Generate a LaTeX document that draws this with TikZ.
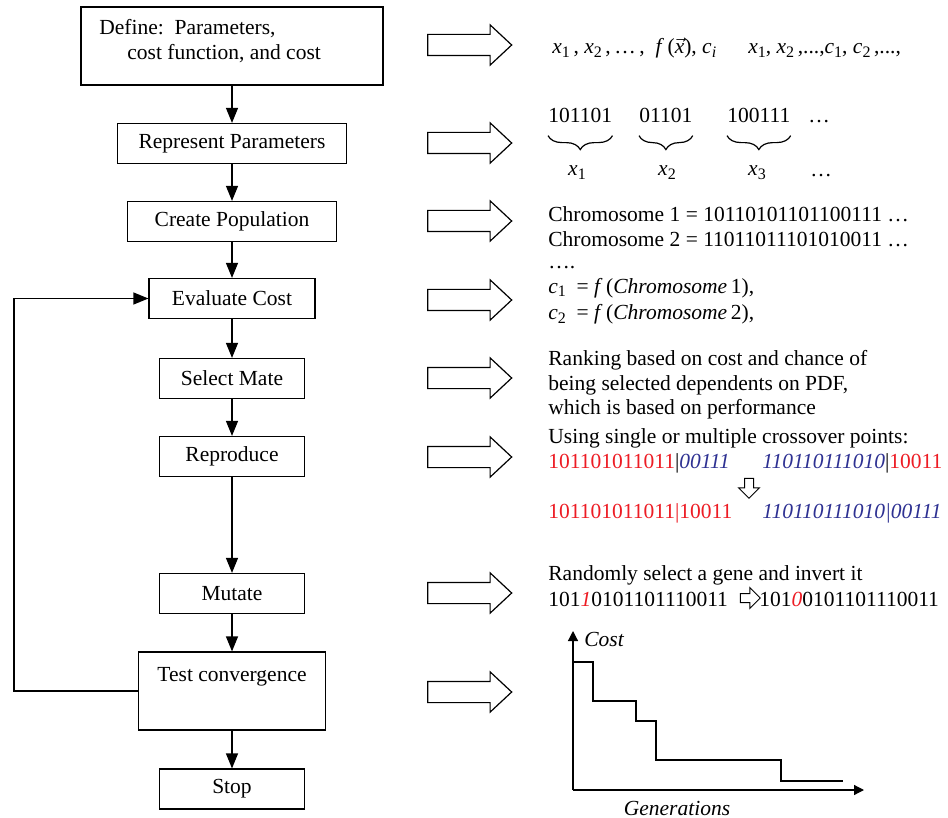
\documentclass[tikz,border=0pt]{standalone}
\usepackage{fontspec}
\setmainfont{Liberation Serif}
\usetikzlibrary{arrows.meta,shapes.arrows,decorations.pathreplacing}
\definecolor{xred}{RGB}{237,28,36}
\definecolor{xblue}{RGB}{46,49,146}
\newcommand\lowsub[1]{\raisebox{-0.35ex}{\fontsize{8}{9}\selectfont #1}}

\begin{document}
\begin{tikzpicture}[x=0.5pt,y=-0.5pt,
  every node/.style={font=\fontsize{10.75}{12.5}\selectfont},
  stepbox/.style={draw,line width=0.6pt,minimum height=20pt,inner sep=0pt},
  flow/.style={line width=0.6pt,-{Triangle[length=7.5pt,width=6pt]}},
  bigarrow/.style={draw,line width=0.6pt,single arrow,single arrow head extend=4.75pt,
    single arrow tip angle=86,minimum height=42pt,inner xsep=0pt,inner ysep=5pt},
  smallarrow/.style={draw,line width=0.5pt,single arrow,single arrow head extend=3pt,
    single arrow tip angle=90,minimum height=10pt,inner xsep=0pt,inner ysep=2pt},
  txt/.style={anchor=base west,inner sep=0pt},
  axis/.style={line width=0.6pt,-{Triangle[length=5pt,width=5pt]}}]
\useasboundingbox (0,0) rectangle (948,818);
%
% flow chart
\node[stepbox,minimum width=151pt,minimum height=39pt] (define) at (232,46) {};
\node[txt] (definel1) at (99,35) {Define:\ \ Parameters,};
\node[txt] (definel2) at (127,60) {cost function, and cost};
\node[stepbox,minimum width=114.5pt] (represent) at (232,143.5) {Represent Parameters};
\node[stepbox,minimum width=104.5pt] (create) at (232,221.5) {Create Population};
\node[stepbox,minimum width=83pt] (evaluate) at (232,298.5) {Evaluate Cost};
\node[stepbox,minimum width=72.5pt] (select) at (232,378.5) {Select Mate};
\node[stepbox,minimum width=72.5pt] (reproduce) at (232,456.5) {Reproduce};
\node[stepbox,minimum width=72.5pt] (mutate) at (232,593.5) {Mutate};
\node[stepbox,minimum width=93.5pt,minimum height=39pt] (test) at (232,691) {};
\node[anchor=base,inner sep=0pt] (testtxt) at (232,681) {Test convergence};
\node[stepbox,minimum width=72.5pt] (stop) at (232,789) {Stop};
%
\draw[flow] (define) -- (represent);
\draw[flow] (represent) -- (create);
\draw[flow] (create) -- (evaluate);
\draw[flow] (evaluate) -- (select);
\draw[flow] (select) -- (reproduce);
\draw[flow] (reproduce) -- (mutate);
\draw[flow] (mutate) -- (test);
\draw[flow] (test) -- (stop);
\draw[flow] (test.west) -- ++(-124,0) |- (evaluate.west);
%
% hollow arrows
\node[bigarrow] (arr1) at (464,45) {};
\node[bigarrow] (arr2) at (464,143) {};
\node[bigarrow] (arr3) at (464,221) {};
\node[bigarrow] (arr4) at (464,300) {};
\node[bigarrow] (arr5) at (464,378) {};
\node[bigarrow] (arr6) at (464,457) {};
\node[bigarrow] (arr7) at (464,593) {};
\node[bigarrow] (arr8) at (464,692) {};
%
% parameters and cost
\node[txt] (params) at (552,54) {\textit{x}\lowsub{1}\,, \textit{x}\lowsub{2}\,,\,…\,,\ \ \textit{f}\,($\vec{\textit{x}}$), \textit{c}\lowsub{\textit{i}}};
\node[txt] (paramlist) at (748,54) {\textit{x}\lowsub{1}, \textit{x}\lowsub{2}\,,...,\textit{c}\lowsub{1}, \textit{c}\lowsub{2}\,,...,};
%
% binary genes
\node[txt] (gene1) at (548,123) {101101};
\node[txt] (gene2) at (639,123) {01101};
\node[txt] (gene3) at (727,123) {100111};
\node[txt] (genedots) at (808,123) {…};
\draw[decorate,decoration={brace,mirror,amplitude=7pt,raise=6pt},line width=0.6pt]
  (gene1.south west) -- (gene1.south east);
\draw[decorate,decoration={brace,mirror,amplitude=7pt,raise=6pt},line width=0.6pt]
  (gene2.south west) -- (gene2.south east);
\draw[decorate,decoration={brace,mirror,amplitude=7pt,raise=6pt},line width=0.6pt]
  (gene3.south west) -- (gene3.south east);
\node[anchor=base,inner sep=0pt] (var1) at (577,176) {\textit{x}\lowsub{1}};
\node[anchor=base,inner sep=0pt] (var2) at (667,176) {\textit{x}\lowsub{2}};
\node[anchor=base,inner sep=0pt] (var3) at (757,176) {\textit{x}\lowsub{3}};
\node[txt] (vardots) at (810,177) {…};
%
% population
\node[txt] (chrom1) at (548,222) {Chromosome 1 = 10110101101100111 …};
\node[txt] (chrom2) at (548,247) {Chromosome 2 = 11011011101010011 …};
\node[txt] (chromdots) at (548,269) {….};
\node[txt] (cost1) at (548,293) {\textit{c}\lowsub{1} \ = \textit{f}\,(\textit{Chromosome}\,1),};
\node[txt] (cost2) at (548,320) {\textit{c}\lowsub{2} \ = \textit{f}\,(\textit{Chromosome}\,2),};
%
% selection
\node[txt] (rank1) at (548,365) {Ranking based on cost and chance of};
\node[txt] (rank2) at (548,390) {being selected dependents on PDF,};
\node[txt] (rank3) at (548,415) {which is based on performance};
%
% crossover
\node[txt] (cross) at (548,443) {Using single or multiple crossover points:};
\node[txt] (parent1) at (548,468) {\textcolor{xred}{101101011011}|\textcolor{xblue}{\textit{00111}}};
\node[txt] (parent2) at (762,468) {\textcolor{xblue}{\textit{110110111010}}|\textcolor{xred}{10011}};
\node[smallarrow,shape border rotate=270,inner xsep=2pt,minimum width=10pt] (crossarr) at (749,486) {};
\node[txt] (child1) at (548,518) {\textcolor{xred}{101101011011|10011}};
\node[txt] (child2) at (762,518) {\textcolor{xblue}{\textit{110110111010|00111}}};
%
% mutation
\node[txt] (mut) at (548,580) {Randomly select a gene and invert it};
\node[txt] (mutold) at (548,606) {101\textcolor{xred}{\textit{1}}0101101110011};
\node[smallarrow] (mutarr) at (748,598) {};
\node[txt] (mutnew) at (759,606) {101\textcolor{xred}{\textit{0}}0101101110011};
%
% convergence plot
\coordinate (origin) at (573,790);
\coordinate (ytop) at (573,631);
\coordinate (xend) at (864,790);
\draw[axis] (origin) -- (ytop);
\draw[axis] (origin) -- (xend);
\draw[line width=0.6pt] (573,662) -| (593,701) -| (636,721) -| (656,760) -| (781,781) -- (843,781);
\node[anchor=west,inner sep=0pt] (costlbl) at (584,639) {\textit{Cost}};
\node[anchor=center,inner sep=0pt] (genlbl) at (677,808) {\textit{Generations}};
%
\end{tikzpicture}
\end{document}
